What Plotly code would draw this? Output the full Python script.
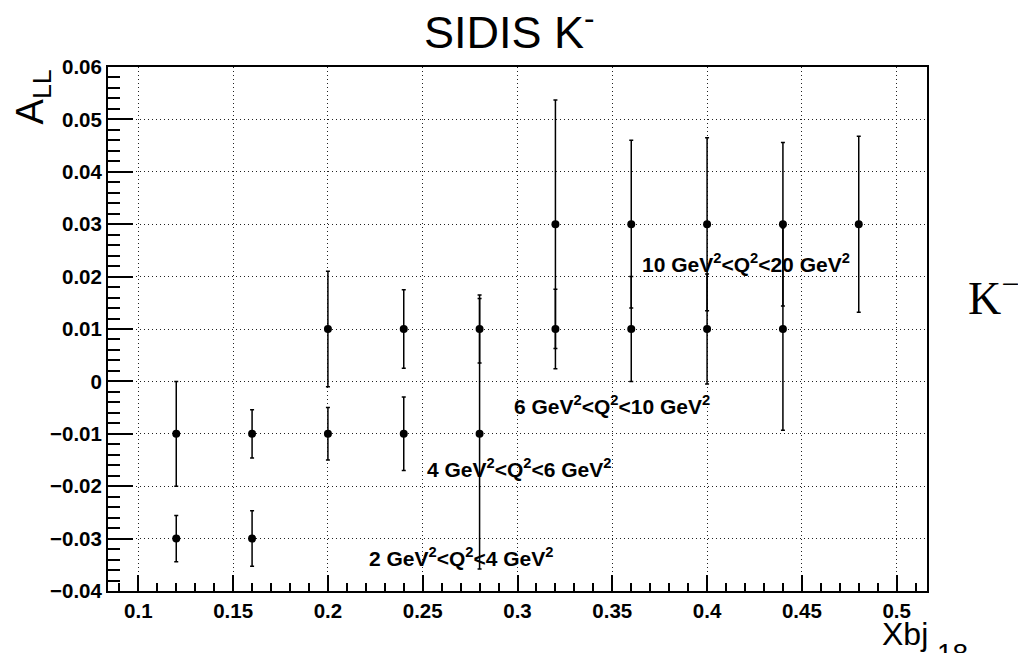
import plotly.graph_objects as go

# ---- data ----
x_q2_2_4 = [0.12, 0.16]
y_q2_2_4 = [-0.03, -0.03]
e_q2_2_4 = [0.0044, 0.0053]

x_q2_4_6 = [0.12, 0.16, 0.20, 0.24, 0.28]
y_q2_4_6 = [-0.01, -0.01, -0.01, -0.01, -0.01]
e_q2_4_6 = [0.0100, 0.0046, 0.0050, 0.0070, 0.0258]

x_q2_6_10 = [0.20, 0.24, 0.28, 0.32, 0.36, 0.40, 0.44]
y_q2_6_10 = [0.01, 0.01, 0.01, 0.01, 0.01, 0.01, 0.01]
e_q2_6_10 = [0.0110, 0.0075, 0.0065, 0.0076, 0.0100, 0.0105, 0.0193]

x_q2_10_20 = [0.32, 0.36, 0.40, 0.44, 0.48]
y_q2_10_20 = [0.03, 0.03, 0.03, 0.03, 0.03]
e_q2_10_20 = [0.0237, 0.0160, 0.0165, 0.0156, 0.0168]

series = [
    (x_q2_2_4, y_q2_2_4, e_q2_2_4),
    (x_q2_4_6, y_q2_4_6, e_q2_4_6),
    (x_q2_6_10, y_q2_6_10, e_q2_6_10),
    (x_q2_10_20, y_q2_10_20, e_q2_10_20),
]

labels = [
    ("2 GeV<sup>2</sup>&lt;Q<sup>2</sup>&lt;4 GeV<sup>2</sup>", 0.2204, -0.0335),
    ("4 GeV<sup>2</sup>&lt;Q<sup>2</sup>&lt;6 GeV<sup>2</sup>", 0.2510, -0.0165),
    ("6 GeV<sup>2</sup>&lt;Q<sup>2</sup>&lt;10 GeV<sup>2</sup>", 0.2973, -0.0045),
    ("10 GeV<sup>2</sup>&lt;Q<sup>2</sup>&lt;20 GeV<sup>2</sup>", 0.3644, 0.0226),
]

fig = go.Figure()
for xs, ys, es in series:
    fig.add_trace(go.Scatter(
        x=xs, y=ys, mode="markers",
        marker=dict(color="black", size=8),
        error_y=dict(type="data", array=es, color="black", thickness=1.5, width=2),
        showlegend=False,
    ))

SANS = "Liberation Sans, Arial, sans-serif"
tickbold = dict(family=SANS, size=20.5, color="black", weight="bold")
labbold = dict(family=SANS, size=21, color="black", weight="bold")

for txt, lx, ly in labels:
    fig.add_annotation(x=lx, y=ly, xref="x", yref="y", text=txt, showarrow=False,
                       xanchor="left", yanchor="middle", font=labbold)

# title
fig.add_annotation(x=0.4908, y=1.0720, xref="paper", yref="paper", text="SIDIS K<sup>-</sup>",
                   showarrow=False, xanchor="center", yanchor="middle",
                   font=dict(family=SANS, size=45, color="black"))
# y title
fig.add_annotation(x=-0.0916, y=1.0, xref="paper", yref="paper", text="A<sub>LL</sub>",
                   textangle=-90, showarrow=False, xanchor="center", yanchor="top",
                   font=dict(family=SANS, size=38, color="black"))
# x title
fig.add_annotation(x=(930 - 108) / 819, y=(591 - 614) / 524, xref="paper", yref="paper", text="Xbj",
                   showarrow=False, xanchor="right", yanchor="top",
                   font=dict(family=SANS, size=32, color="black"))
fig.add_annotation(x=(935 - 108) / 819, y=(591 - 636) / 524, xref="paper", yref="paper", text="18",
                   showarrow=False, xanchor="left", yanchor="top",
                   font=dict(family=SANS, size=28, color="black"))
# K- at right
fig.add_annotation(x=(966 - 108) / 819, y=(591 - 295) / 524, xref="paper", yref="paper",
                   text="K<sup>\u2212</sup>", showarrow=False, xanchor="left", yanchor="middle",
                   font=dict(family="Liberation Serif, Times New Roman, serif", size=46, color="black"))

axis_common = dict(
    showline=True, linecolor="black", linewidth=2, mirror=True,
    ticks="inside", tickcolor="black", tickwidth=1.5,
    showgrid=True, gridcolor="#222", gridwidth=1, griddash="1px,3px",
    zeroline=False, tickfont=tickbold,
)

fig.update_xaxes(range=[0.084, 0.516], tick0=0, dtick=0.05, ticklen=16,
                 minor=dict(dtick=0.01, ticklen=8, ticks="inside", tickcolor="black", tickwidth=1.5, showgrid=False),
                 **axis_common)
fig.update_yaxes(range=[-0.04, 0.06], tick0=0, dtick=0.01, ticklen=25,
                 minor=dict(dtick=0.002, ticklen=12, ticks="inside", tickcolor="black", tickwidth=1.5, showgrid=False),
                 **axis_common)

fig.update_layout(
    width=1018, height=653,
    margin=dict(l=108, r=91, t=67, b=62),
    paper_bgcolor="white", plot_bgcolor="white",
)

fig.write_html("out.html")
